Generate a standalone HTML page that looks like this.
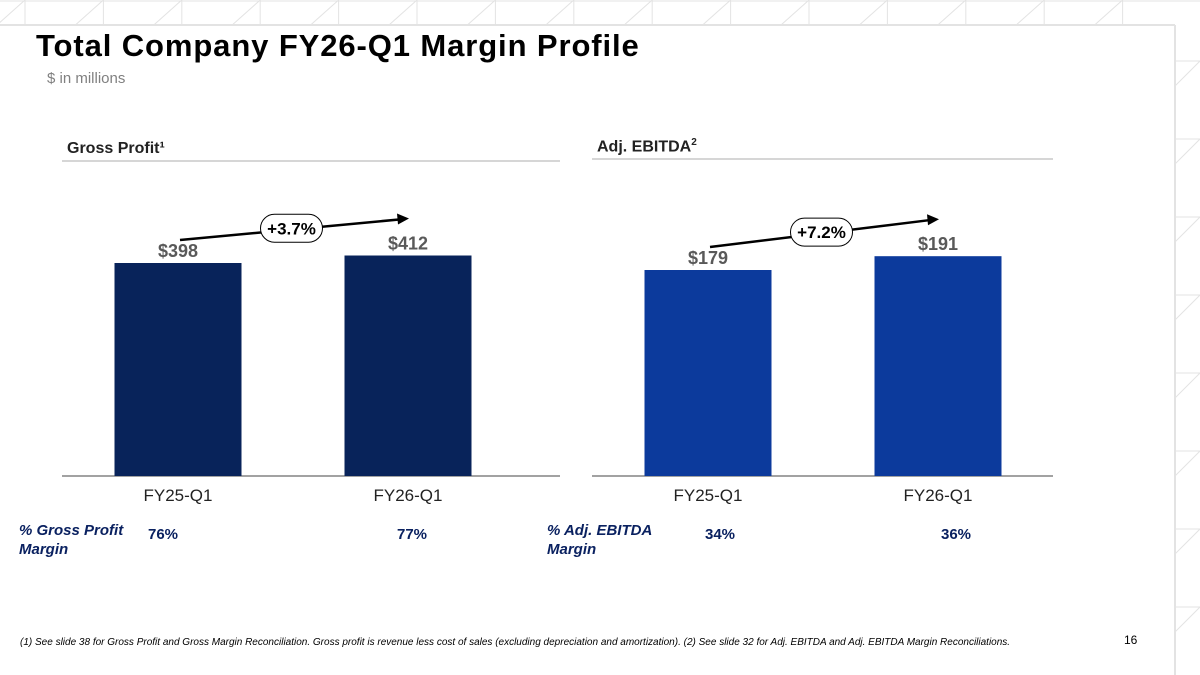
<!DOCTYPE html>
<html><head><meta charset="utf-8"><style>
body{margin:0;width:1200px;height:675px;overflow:hidden;background:#fff;font-family:"Liberation Sans",sans-serif;position:relative}
.a{position:absolute;white-space:nowrap}
</style></head><body>
<svg class="a" style="left:0;top:0" width="1200" height="675" id="frame"></svg>
<div class="a" style="left:36px;top:28px;font-size:31px;font-weight:bold;color:#000;letter-spacing:0.9px">Total Company FY26-Q1 Margin Profile</div>
<div class="a" style="left:47px;top:70px;font-size:15px;color:#808080">$ in millions</div>
<div class="a" style="left:67px;top:140px;font-size:16px;font-weight:bold;color:#222">Gross Profit¹</div>
<div class="a" style="left:597px;top:137px;font-size:16px;font-weight:bold;color:#222">Adj. EBITDA<sup style="font-size:10px">2</sup></div>
<svg class="a" style="left:0;top:0" width="1200" height="675" id="chart"></svg>
<div class="a" style="left:19px;top:521px;font-size:15px;font-weight:bold;font-style:italic;color:#0a2160;line-height:19px">% Gross Profit<br>Margin</div>
<div class="a" style="left:547px;top:521px;font-size:15px;font-weight:bold;font-style:italic;color:#0a2160;line-height:19px">% Adj. EBITDA<br>Margin</div>
<div class="a" style="left:148px;top:526px;font-size:15px;font-weight:bold;color:#0a2160">76%</div>
<div class="a" style="left:397px;top:526px;font-size:15px;font-weight:bold;color:#0a2160">77%</div>
<div class="a" style="left:705px;top:526px;font-size:15px;font-weight:bold;color:#0a2160">34%</div>
<div class="a" style="left:941px;top:526px;font-size:15px;font-weight:bold;color:#0a2160">36%</div>
<div class="a" style="left:20px;top:637px;font-size:10px;font-style:italic;color:#000">(1) See slide 38 for Gross Profit and Gross Margin Reconciliation. Gross profit is revenue less cost of sales (excluding depreciation and amortization). (2) See slide 32 for Adj. EBITDA and Adj. EBITDA Margin Reconciliations.</div>
<div class="a" style="left:1124px;top:633px;font-size:12px;color:#000">16</div>
<script>
const NS="http://www.w3.org/2000/svg";
function mk(p,t,at){const e=document.createElementNS(NS,t);for(const k in at)e.setAttribute(k,at[k]);p.appendChild(e);return e;}
const fr=document.getElementById('frame');
mk(fr,'line',{x1:0,y1:25,x2:1175,y2:25,stroke:'#e3e3e3','stroke-width':2});
mk(fr,'line',{x1:1175,y1:25,x2:1175,y2:675,stroke:'#e3e3e3','stroke-width':2});
mk(fr,'line',{x1:0,y1:1,x2:1200,y2:1,stroke:'#e3e3e3','stroke-width':1});
for(let x=25;x<1200;x+=78.4){mk(fr,'line',{x1:x,y1:0,x2:x,y2:25,stroke:'#e3e3e3','stroke-width':1});mk(fr,'line',{x1:x-28,y1:25,x2:x,y2:0,stroke:'#e3e3e3','stroke-width':1});}
for(let y=83;y<675;y+=78){mk(fr,'line',{x1:1175,y1:y-22,x2:1200,y2:y-22,stroke:'#e3e3e3','stroke-width':1});mk(fr,'line',{x1:1175,y1:y+3,x2:1200,y2:y-22,stroke:'#e3e3e3','stroke-width':1});}
const gpCategories=["FY25-Q1","FY26-Q1"];
const gpValues=[398,412];
const gpLabels=["$398","$412"];
const ebCategories=["FY25-Q1","FY26-Q1"];
const ebValues=[179,191];
const ebLabels=["$179","$191"];
const growth=["+3.7%","+7.2%"];
const c=document.getElementById('chart');
function chart(cfg){
  const {x0,x1,base,scale,cats,vals,labs,color,gr,name,hy}=cfg;
  mk(c,'line',{x1:x0,y1:hy,x2:x1,y2:hy,stroke:'#c8c8c8','stroke-width':1.5});
  const ax=mk(c,'line',{x1:x0,y1:base,x2:x1,y2:base,stroke:'#444','stroke-width':1});
  
  const bw=127;
  const X=i=>x0+116+230*i;
  const Y=v=>base-v*scale;
  const tops=[];
  cats.forEach((cat,i)=>{
    const r=mk(c,'rect',{x:X(i)-bw/2,y:Y(vals[i]),width:bw,height:base-Y(vals[i]),fill:color});
    
    const t=mk(c,'text',{x:X(i),y:base+25,'text-anchor':'middle','font-size':17,fill:'#222'});t.textContent=cat;
    
    const l=mk(c,'text',{x:X(i),y:Y(vals[i])-6,'text-anchor':'middle','font-size':18,'font-weight':'bold',fill:'#595959'});l.textContent=labs[i];
    
    tops.push(Y(vals[i]));
  });
  const ax1=X(0)+2,ay1=tops[0]-23,ax2=X(1)+1,ay2=tops[1]-37;
  mk(c,'line',{x1:ax1,y1:ay1,x2:ax2-10,y2:ay2+1,stroke:'#000','stroke-width':2.5});
  mk(c,'polygon',{points:`${ax2},${ay2} ${ax2-12},${ay2-5} ${ax2-11},${ay2+6}`,fill:'#000'});
  const mx=(ax1+ax2)/2-3, my=(ay1+ay2)/2+-1;
  const b=mk(c,'rect',{x:mx-31,y:my-14,width:62,height:28,rx:14,fill:'#fff',stroke:'#000','stroke-width':1});
  
  const g=mk(c,'text',{x:mx,y:my+6,'text-anchor':'middle','font-size':17,'font-weight':'bold',fill:'#000'});g.textContent=gr;
}
chart({x0:62,x1:560,base:476,scale:213/398,cats:gpCategories,vals:gpValues,labs:gpLabels,color:'#08235a',gr:growth[0],name:'gross-profit',hy:161});
chart({x0:592,x1:1053,base:476,scale:206/179,cats:ebCategories,vals:ebValues,labs:ebLabels,color:'#0c3a9c',gr:growth[1],name:'adj-ebitda',hy:159});
</script>
</body></html>
